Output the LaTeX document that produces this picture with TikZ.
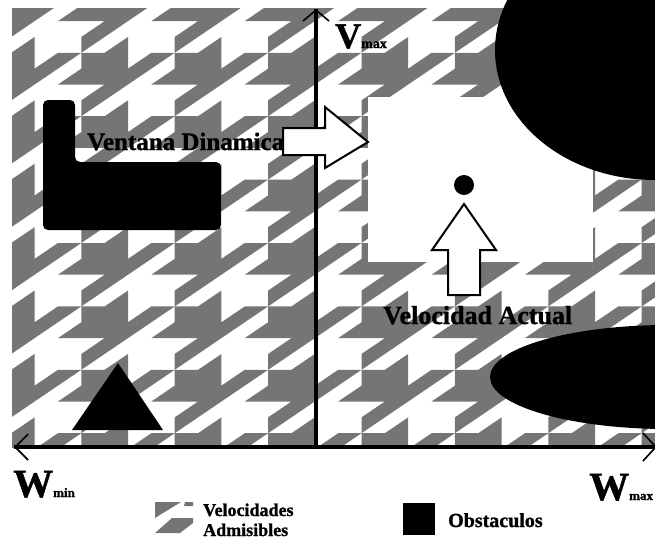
\documentclass[tikz,border=0pt]{standalone}
\usepackage{fontspec}
\setmainfont[BoldFeatures={FakeBold=1.2}]{Liberation Serif}
\usetikzlibrary{arrows.meta,positioning,calc}
\definecolor{houndgray}{RGB}{117,117,117}

\begin{document}
\begin{tikzpicture}[x=1pt,y=-1pt,
        axisline/.style={line width=3.5pt},
        barb/.style={line width=1.6pt},
        obst/.style={fill=black},
        bigarrow/.style={draw=black,fill=white,line width=2pt,line join=miter},
        txt/.style={inner sep=0pt,anchor=base west}]

        \useasboundingbox (0,0) rectangle (655,539);
        \clip (0,0) rectangle (655,539);

        %% houndstooth background
        \begin{scope}
          \clip (12,8) rectangle (655,447);
          \begin{scope}[shift={(-58.8,-10.6)},xscale=46.7,yscale=31.7]
            \foreach \i in {-1,...,7} {
              \foreach \j in {-1,...,7} {
                \fill[houndgray,shift={(2*\i,2*\j)}] (1,0) -- (1.5,0) -- (2,-0.5) -- (2,0) -- (2,0.5) -- (2.5,0) -- (3,0) -- (2,1) -- (1,2) -- (1,1.5) -- (1.5,1) -- (0.5,1) -- (1,0.5) -- cycle;
              }
            }
          \end{scope}
        \end{scope}

        %% ventana dinamica
        \fill[white] (368,97) rectangle (593,262);

        %% obstaculos
        \fill[obst] (655,50) ellipse [x radius=160,y radius=130];
        \fill[obst] (668,377) ellipse [x radius=178,y radius=52];
        \fill[obst,rounded corners=5pt] (43,100) -- (75,100) -- (75,162) -- (221,162) -- (221,230) -- (43,230) -- cycle;
        \fill[obst] (118,363) -- (163,430) -- (72,430) -- cycle;

        %% ejes
        \coordinate (origin) at (316,447);
        \coordinate (vmax_tip) at (316,9);
        \coordinate (wmin_tip) at (14,447);
        \coordinate (wmax_tip) at (657,447);
        \draw[axisline] (origin) -- (vmax_tip);
        \draw[axisline] (wmin_tip) -- (wmax_tip);
        \draw[barb,-{Straight Barb[length=11pt,width=26pt]}] (origin) -- (vmax_tip);
        \draw[barb,{Straight Barb[length=13pt,width=26pt]}-{Straight Barb[length=13pt,width=28pt]}] (wmin_tip) -- (wmax_tip);

        %% flechas
        \draw[bigarrow] (283,128) -- (325,128) -- (325,107) -- (368,142) -- (325,168) -- (325,155) -- (283,155) -- cycle;
        \fill (464,185) circle [radius=10];
        \draw[bigarrow] (464,204) -- (496,250) -- (480,250) -- (480,295) -- (448,295) -- (448,250) -- (432,250) -- cycle;

        \node[txt,font=\bfseries\fontsize{25}{25}\selectfont] (lbl_ventana) at (87,150) {Ventana Dinamica};
        \node[txt,font=\bfseries\fontsize{26}{26}\selectfont] (lbl_actual) at (383,324) {Velocidad Actual};
        \node[txt,font=\bfseries] (lbl_vmax) at (335,48) {\fontsize{36}{36}\selectfont V\fontsize{14}{14}\selectfont max};
        \node[txt,font=\bfseries] (lbl_wmin) at (13,497) {\fontsize{40}{40}\selectfont W\fontsize{13}{13}\selectfont min};
        \node[txt,font=\bfseries] (lbl_wmax) at (589,500) {\fontsize{40}{40}\selectfont W\fontsize{13}{13}\selectfont max};

        %% leyenda
        \begin{scope}
          \clip (155,502) rectangle (193,533);
          \fill[houndgray] (155,502) -- (181,502) -- (155,518) -- cycle;
          \fill[houndgray] (185,502) -- (193,502) -- (193,506) -- (184,506) -- cycle;
          \fill[houndgray] (155,533) -- (172,518) -- (193,518) -- (193,523) -- (180,533) -- cycle;
        \end{scope}
        \node[txt,font=\bfseries\fontsize{18}{18}\selectfont] (leg_vel) at (203,516) {Velocidades};
        \node[txt,font=\bfseries\fontsize{18}{18}\selectfont] (leg_adm) at ($(leg_vel.base west)+(0,20)$) {Admisibles};
        \fill (403,503) rectangle (435,535);
        \node[txt,font=\bfseries\fontsize{20}{20}\selectfont] (leg_obs) at (448,527) {Obstaculos};

\end{tikzpicture}
\end{document}
